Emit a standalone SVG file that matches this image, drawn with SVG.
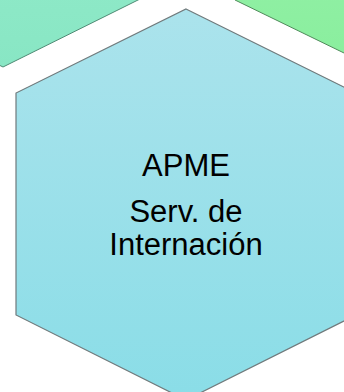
<svg xmlns="http://www.w3.org/2000/svg" width="344" height="392" viewBox="0 0 344 392">
<defs>
<linearGradient id="gMain" x1="0" y1="0" x2="0" y2="1">
<stop offset="0" stop-color="#abe3ec"/>
<stop offset="1" stop-color="#8adde7"/>
</linearGradient>
<linearGradient id="gLeft" x1="0" y1="0" x2="0" y2="1">
<stop offset="0" stop-color="#94ecca"/>
<stop offset="1" stop-color="#88e6c4"/>
</linearGradient>
<linearGradient id="gRight" x1="0" y1="0" x2="0" y2="1">
<stop offset="0" stop-color="#92f0a6"/>
<stop offset="1" stop-color="#88ee9c"/>
</linearGradient>
<style>
.lbl{font-family:"Liberation Sans",Arial,sans-serif;font-size:31px;fill:#000;text-anchor:middle}
</style>
</defs>
<g id="node-left">
<polygon points="-167,-17 3,-101 173,-17 138,0 3,67 -167,-17" fill="url(#gLeft)" stroke="#4f8a74" stroke-width="1"/>
</g>
<g id="node-right">
<polygon points="235,0 344,53 404,83 500,35 500,-50 235,-50" fill="url(#gRight)" stroke="#4f8a5a" stroke-width="1"/>
</g>
<g id="node-main">
<polygon points="186,9 356,93 356,315 186,400 16,315 16,93" fill="url(#gMain)" stroke="#707a7c" stroke-width="1.2"/>
<text class="lbl" x="186" y="176">APME</text>
<text class="lbl" x="186" y="222">Serv. de</text>
<text class="lbl" x="186" y="255">Internación</text>
</g>
<g id="connectors"/>
</svg>
